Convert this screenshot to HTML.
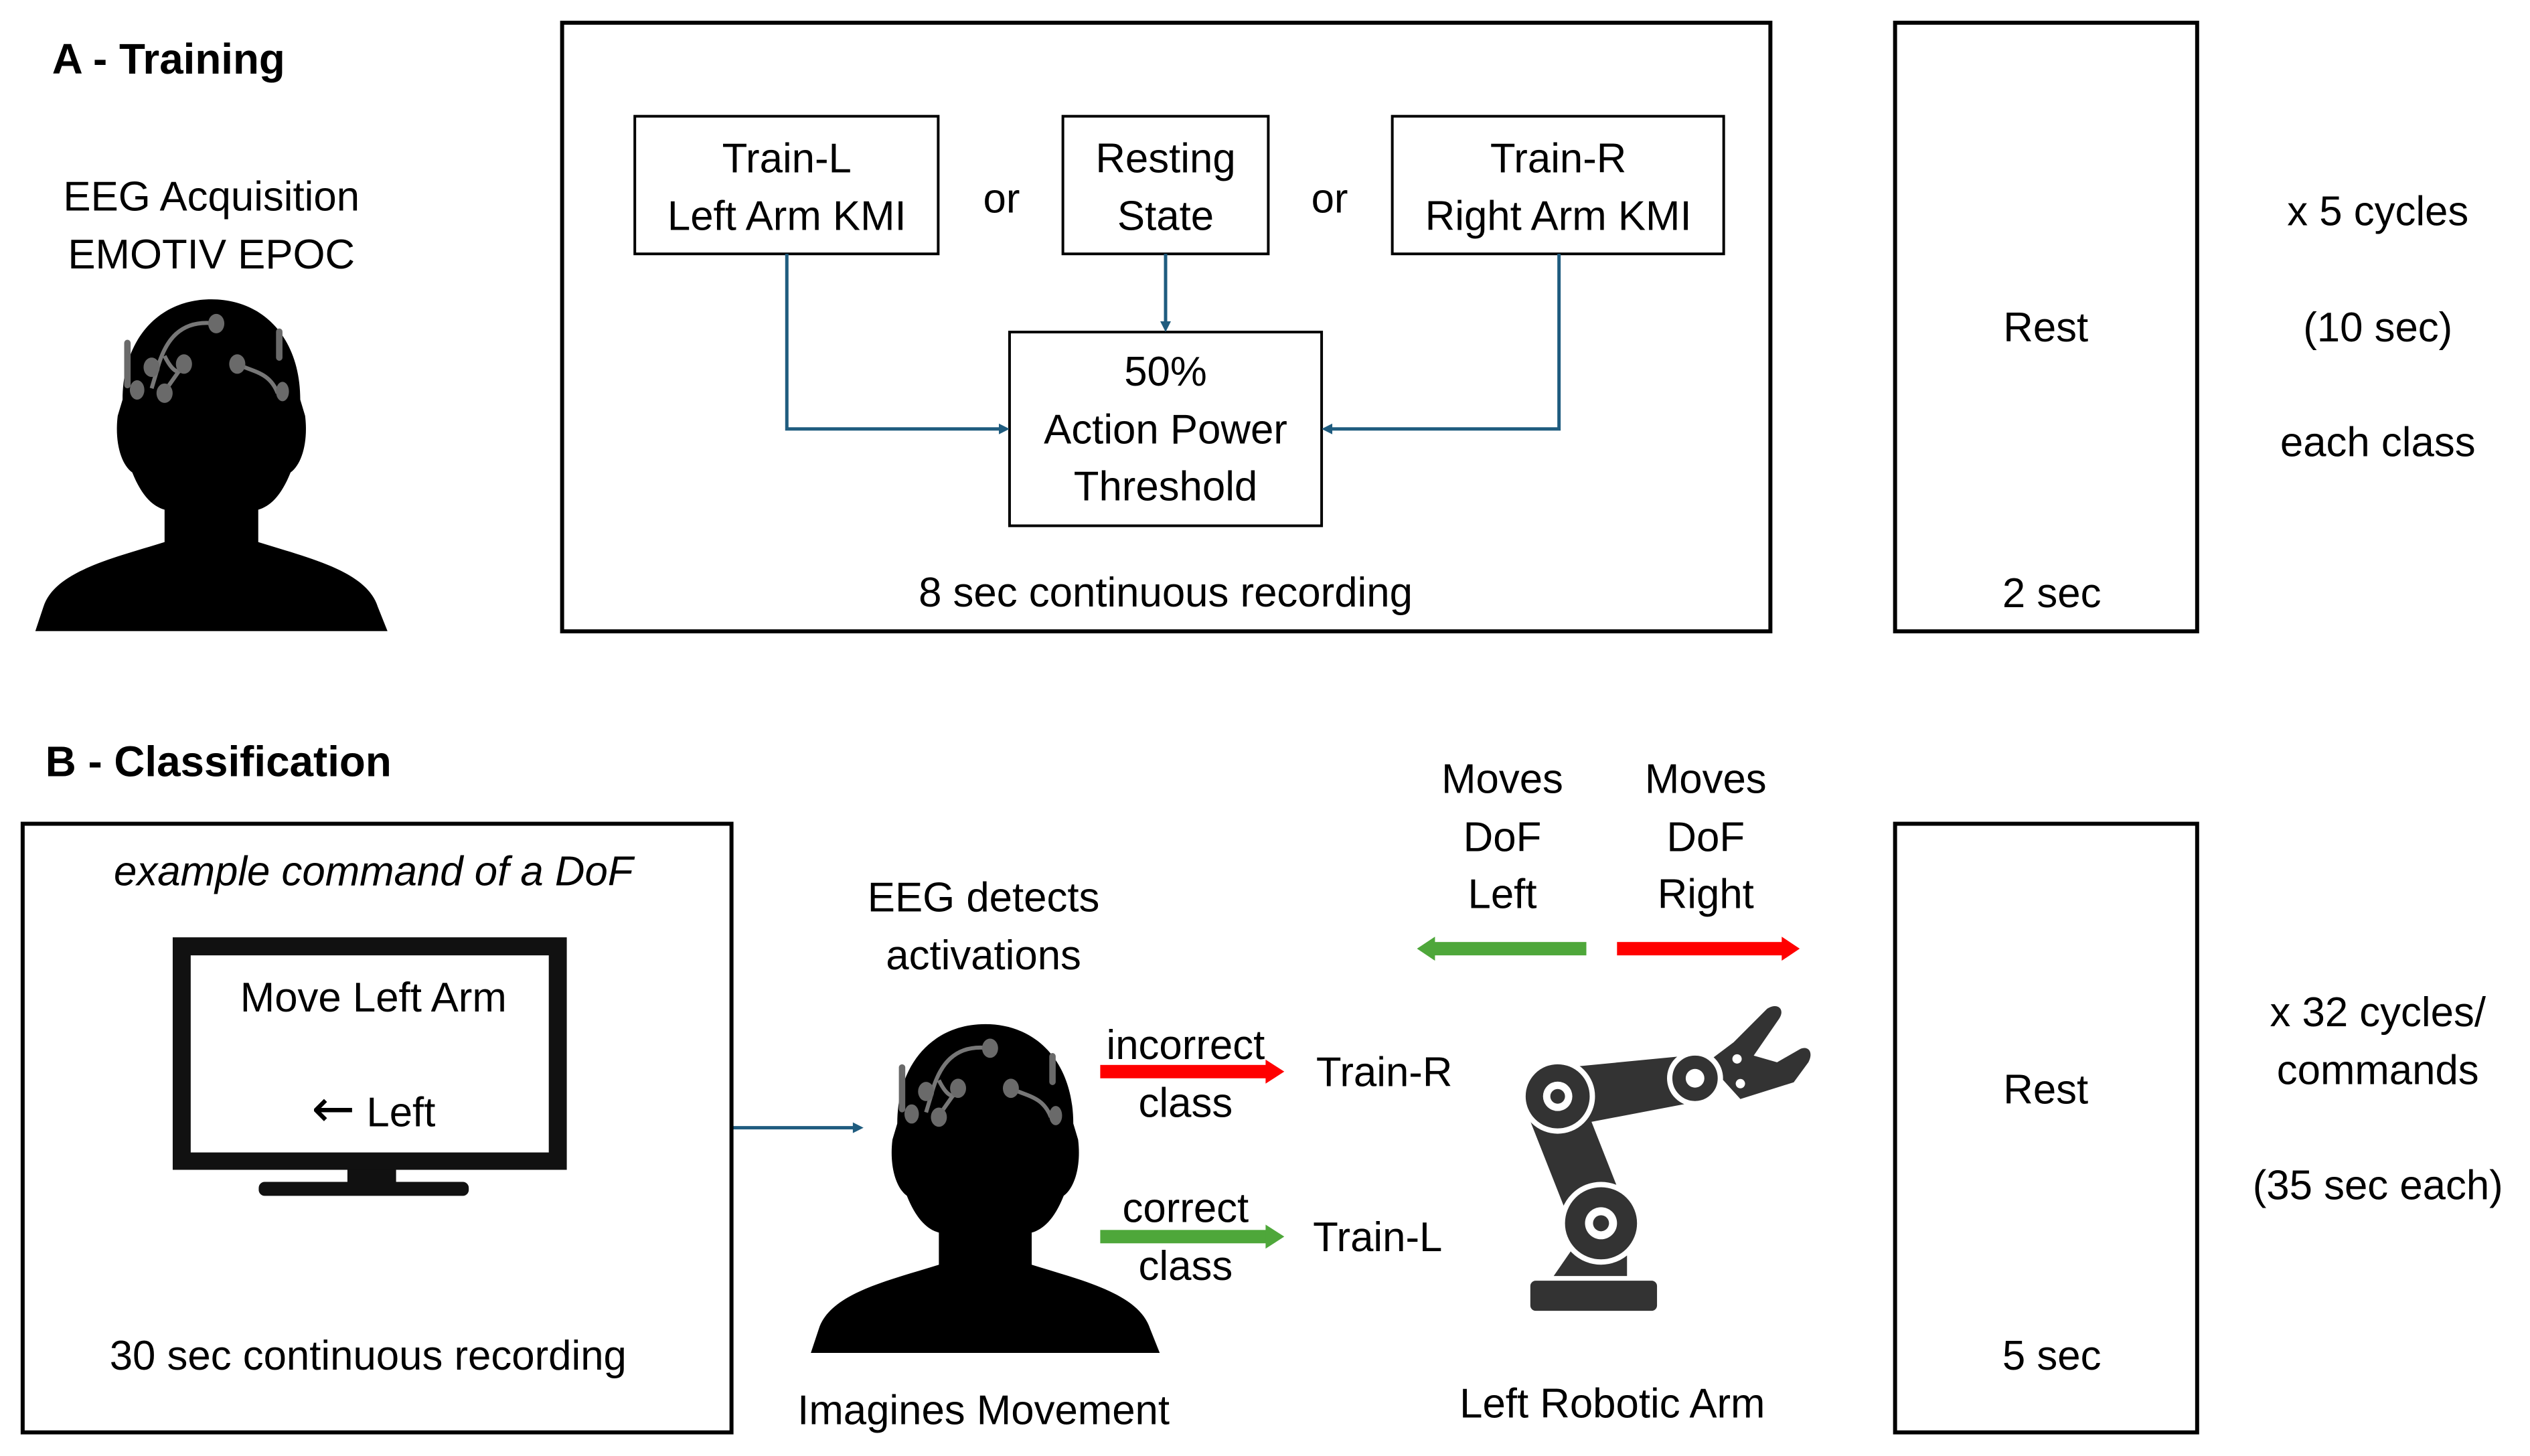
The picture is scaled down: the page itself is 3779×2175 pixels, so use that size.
<!DOCTYPE html>
<html><head><meta charset="utf-8"><style>
html,body{margin:0;padding:0;background:#fff}
svg{display:block}
text{font-family:"Liberation Sans",sans-serif;fill:#000}
</style></head><body>
<svg width="3779" height="2175" viewBox="0 0 3779 2175" xmlns="http://www.w3.org/2000/svg">
<defs>
<g id="head">
<path d="M109,0 C142,0 164,25 164,62 L167,72 C169,88 165,102 158,107 C152,122 145,128 138,130 L138,150 C170,160 205,168 212,190 L218,205 L0,205 L5,190 C12,168 48,160 80,150 L80,130 C73,128 66,122 60,107 C53,102 49,88 51,72 L54,62 C54,25 76,0 109,0 Z" fill="#000"/>
<g stroke="#777" stroke-width="2.5" fill="none">
<path d="M112,15 C90,12 80,25 75,45 L72,55"/>
<path d="M80,35 C85,45 90,48 92,40"/>
<path d="M125,40 C135,45 145,45 150,58"/>
<path d="M92,40 L80,57"/>
</g>
<g fill="#6a6a6a">
<ellipse cx="112" cy="15" rx="5" ry="6"/>
<ellipse cx="72" cy="42" rx="5" ry="6"/>
<ellipse cx="92" cy="40" rx="5" ry="6"/>
<ellipse cx="125" cy="40" rx="5" ry="6"/>
<ellipse cx="63" cy="56" rx="4.5" ry="6"/>
<ellipse cx="80" cy="58" rx="5" ry="6"/>
<ellipse cx="153" cy="57" rx="4" ry="6"/>
<rect x="55" y="25" width="4" height="30" rx="2"/>
<rect x="149" y="18" width="4" height="20" rx="2"/>
</g>
</g>
</defs>
<g transform="scale(0.996 0.998)">
<!-- Section A -->
<text x="78" y="110" font-size="64" font-weight="bold">A - Training</text>
<text x="317" y="315" font-size="62" text-anchor="middle">EEG Acquisition</text>
<text x="317" y="402" font-size="62" text-anchor="middle">EMOTIV EPOC</text>
<use href="#head" transform="translate(53,448) scale(2.4225)"/>

<rect x="843" y="34" width="1812" height="911" fill="none" stroke="#000" stroke-width="6"/>
<rect x="952" y="174" width="455" height="206" fill="none" stroke="#000" stroke-width="4"/>
<text x="1180" y="258" font-size="62" text-anchor="middle">Train-L</text>
<text x="1180" y="344" font-size="62" text-anchor="middle">Left Arm KMI</text>
<text x="1502" y="318" font-size="62" text-anchor="middle">or</text>
<rect x="1594" y="174" width="308" height="206" fill="none" stroke="#000" stroke-width="4"/>
<text x="1748" y="258" font-size="62" text-anchor="middle">Resting</text>
<text x="1748" y="344" font-size="62" text-anchor="middle">State</text>
<text x="1994" y="318" font-size="62" text-anchor="middle">or</text>
<rect x="2088" y="174" width="497" height="206" fill="none" stroke="#000" stroke-width="4"/>
<text x="2337" y="258" font-size="62" text-anchor="middle">Train-R</text>
<text x="2337" y="344" font-size="62" text-anchor="middle">Right Arm KMI</text>
<rect x="1514" y="497" width="468" height="290" fill="none" stroke="#000" stroke-width="4"/>
<text x="1748" y="577" font-size="62" text-anchor="middle">50%</text>
<text x="1748" y="664" font-size="62" text-anchor="middle">Action Power</text>
<text x="1748" y="749" font-size="62" text-anchor="middle">Threshold</text>
<g stroke="#1f5c7f" stroke-width="5" fill="none">
<polyline points="1180,380 1180,642 1500,642"/>
<polyline points="1748,380 1748,484"/>
<polyline points="2338,380 2338,642 1996,642"/>
<line x1="1097" y1="1688" x2="1280" y2="1688"/>
</g>
<g fill="#1f5c7f">
<polygon points="1514,642 1498,634 1498,650"/>
<polygon points="1748,497 1740,481 1756,481"/>
<polygon points="1982,642 1998,634 1998,650"/>
<polygon points="1295,1688 1279,1680 1279,1696"/>
</g>
<text x="1748" y="908" font-size="62" text-anchor="middle">8 sec continuous recording</text>

<rect x="2842" y="34" width="453" height="911" fill="none" stroke="#000" stroke-width="6"/>
<text x="3068" y="511" font-size="62" text-anchor="middle">Rest</text>
<text x="3077" y="909" font-size="62" text-anchor="middle">2 sec</text>
<text x="3566" y="337" font-size="62" text-anchor="middle">x 5 cycles</text>
<text x="3566" y="511" font-size="62" text-anchor="middle">(10 sec)</text>
<text x="3566" y="683" font-size="62" text-anchor="middle">each class</text>

<!-- Section B -->
<text x="68" y="1162" font-size="64" font-weight="bold">B - Classification</text>
<rect x="34" y="1233" width="1063" height="911" fill="none" stroke="#000" stroke-width="6"/>
<text x="560" y="1325" font-size="62" font-style="italic" text-anchor="middle">example command of a DoF</text>
<rect x="259" y="1403" width="591" height="348" fill="#111"/>
<rect x="286" y="1430" width="537" height="295" fill="#fff"/>
<rect x="521" y="1751" width="73" height="22" fill="#111"/>
<rect x="388" y="1769" width="315" height="21" rx="9" fill="#111"/>
<text x="560" y="1514" font-size="62" text-anchor="middle">Move Left Arm</text>
<text x="560" y="1686" font-size="62" text-anchor="middle"><tspan font-size="78" font-family="DejaVu Sans">←</tspan> Left</text>
<text x="552" y="2050" font-size="62" text-anchor="middle">30 sec continuous recording</text>

<text x="1475" y="1364" font-size="62" text-anchor="middle">EEG detects</text>
<text x="1475" y="1451" font-size="62" text-anchor="middle">activations</text>
<use href="#head" transform="translate(1216,1533) scale(2.40)"/>
<text x="1475" y="2132" font-size="62" text-anchor="middle">Imagines Movement</text>

<text x="1778" y="1585" font-size="62" text-anchor="middle">incorrect</text>
<rect x="1650" y="1594" width="250" height="20" fill="#f00"/>
<polygon points="1926,1604 1898,1586 1898,1622" fill="#f00"/>
<text x="1778" y="1672" font-size="62" text-anchor="middle">class</text>
<text x="2076" y="1626" font-size="62" text-anchor="middle">Train-R</text>

<text x="1778" y="1829" font-size="62" text-anchor="middle">correct</text>
<rect x="1650" y="1841" width="250" height="20" fill="#4ea73a"/>
<polygon points="1926,1851 1898,1833 1898,1869" fill="#4ea73a"/>
<text x="1778" y="1916" font-size="62" text-anchor="middle">class</text>
<text x="2066" y="1873" font-size="62" text-anchor="middle">Train-L</text>

<text x="2253" y="1187" font-size="62" text-anchor="middle">Moves</text>
<text x="2253" y="1274" font-size="62" text-anchor="middle">DoF</text>
<text x="2253" y="1359" font-size="62" text-anchor="middle">Left</text>
<text x="2558" y="1187" font-size="62" text-anchor="middle">Moves</text>
<text x="2558" y="1274" font-size="62" text-anchor="middle">DoF</text>
<text x="2558" y="1359" font-size="62" text-anchor="middle">Right</text>
<rect x="2150" y="1410" width="229" height="20" fill="#4ea73a"/>
<polygon points="2125,1420 2152,1402 2152,1438" fill="#4ea73a"/>
<rect x="2425" y="1410" width="248" height="20" fill="#f00"/>
<polygon points="2699,1420 2672,1402 2672,1438" fill="#f00"/>

<!-- Robot arm -->
<g fill="#333">
<rect x="2295" y="1917" width="190" height="45" rx="8"/>
<polygon points="2330,1910 2440,1910 2440,1845 2375,1845"/>
<line x1="2326" y1="1641" x2="2401" y2="1831" stroke="#333" stroke-width="85"/>
<polygon points="2326,1600 2532,1580 2540,1650 2330,1690"/>
<circle cx="2401" cy="1831" r="58" stroke="#fff" stroke-width="8"/>
<circle cx="2401" cy="1831" r="24" fill="#fff"/>
<circle cx="2401" cy="1831" r="12"/>
<circle cx="2336" cy="1641" r="52" stroke="#fff" stroke-width="8"/>
<circle cx="2336" cy="1641" r="22" fill="#fff"/>
<circle cx="2336" cy="1641" r="11"/>
<path d="M2560,1590 L2600,1560 L2650,1510 C2665,1500 2678,1510 2668,1525 L2630,1580 L2665,1590 L2700,1570 C2712,1565 2720,1575 2712,1590 L2690,1620 L2610,1645 Z"/>
<circle cx="2542" cy="1614" r="38" stroke="#fff" stroke-width="8"/>
<circle cx="2542" cy="1614" r="14" fill="#fff"/>
<circle cx="2605" cy="1585" r="7" fill="#fff"/>
<circle cx="2610" cy="1622" r="7" fill="#fff"/>
</g>
<text x="2418" y="2122" font-size="62" text-anchor="middle">Left Robotic Arm</text>

<rect x="2842" y="1233" width="453" height="911" fill="none" stroke="#000" stroke-width="6"/>
<text x="3068" y="1652" font-size="62" text-anchor="middle">Rest</text>
<text x="3077" y="2050" font-size="62" text-anchor="middle">5 sec</text>
<text x="3566" y="1536" font-size="62" text-anchor="middle">x 32 cycles/</text>
<text x="3566" y="1623" font-size="62" text-anchor="middle">commands</text>
<text x="3566" y="1795" font-size="62" text-anchor="middle">(35 sec each)</text>
</g>
</svg>
</body></html>
